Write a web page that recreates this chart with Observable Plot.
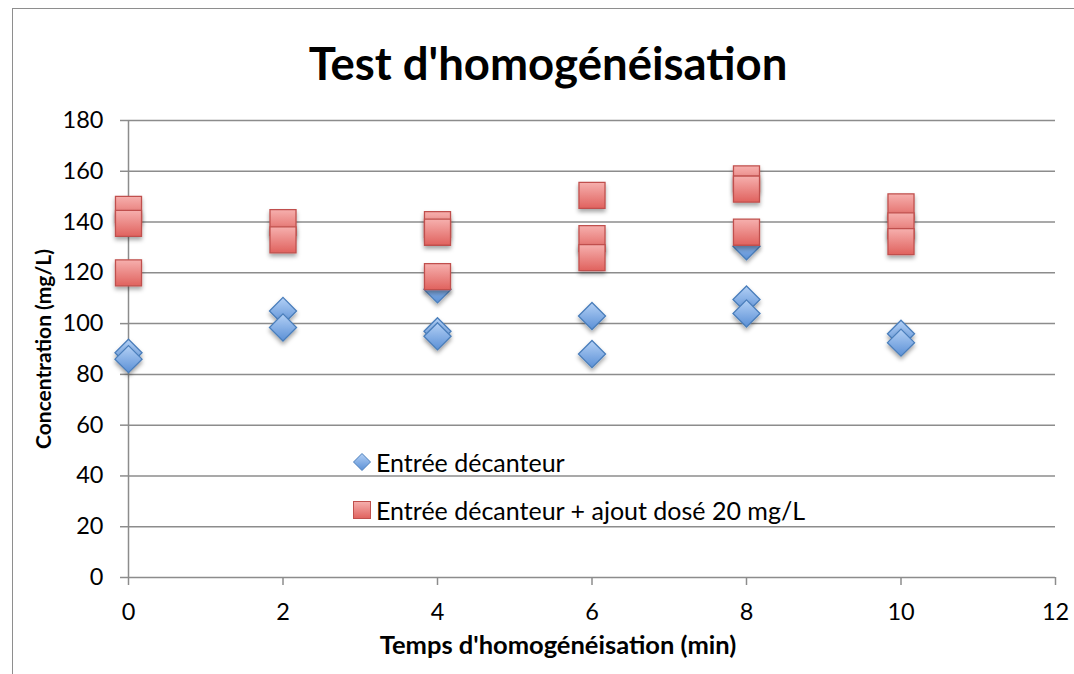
<!DOCTYPE html>
<html>
<head>
<meta charset="utf-8">
<script src="https://cdn.jsdelivr.net/npm/d3@7"></script>
<script src="https://cdn.jsdelivr.net/npm/@observablehq/plot@0.6"></script>
<style>
  html, body { margin: 0; padding: 0; background: #fff; overflow: hidden; }
  #wrap { position: relative; width: 1074px; height: 674px; font-family: Lato, "Open Sans", sans-serif; }
  #frame { position: absolute; left: 12px; top: 8px; width: 1200px; height: 800px; border: 1.5px solid #8e8e8e; box-sizing: border-box; }
  #title { position: absolute; left: 0; width: 1096px; top: 36px; text-align: center; font-weight: bold; font-size: 45.5px; line-height: 1.2; color: #000; }
  #chart { position: absolute; left: 0; top: 0; }
  #legend { position: absolute; left: 352px; top: 438px; font-size: 25px; color: #000; }
  .item { display: flex; align-items: center; height: 48px; }
  .item svg { margin-right: 4px; }
</style>
</head>
<body>
<div id="wrap">
  <div id="frame"></div>
  <div id="chart"></div>
  <div id="title">Test d'homogénéisation</div>
  <div id="legend"></div>
</div>
<script>
// ---- data ----
const seriesNames = ["Entrée décanteur", "Entrée décanteur + ajout dosé 20 mg/L"];
const blueX = [0, 0, 2, 2, 4, 4, 4, 6, 6, 8, 8, 8, 10, 10];
const blueY = [88.5, 86, 105, 98.5, 113.5, 97, 95, 103, 88, 130.5, 109.5, 104, 96, 92.5];
const redX = [0, 0, 0, 2, 2, 4, 4, 4, 6, 6, 6, 8, 8, 8, 10, 10, 10];
const redY = [145, 139.5, 120, 139.8, 133, 139, 136, 118.5, 150.5, 133.5, 126, 157, 153, 136, 146, 138.5, 132.3];
const xTicks = [0, 2, 4, 6, 8, 10, 12];
const yTicks = [0, 20, 40, 60, 80, 100, 120, 140, 160, 180];
const xLabel = "Temps d'homogénéisation (min)";
const yLabel = "Concentration (mg/L)";

const blue = blueX.map((x, i) => ({x, y: blueY[i]}));
const red = redX.map((x, i) => ({x, y: redY[i]}));

const grid = "#8c8c8c";

const plot = Plot.plot({
  width: 1074,
  height: 674,
  marginLeft: 128,
  marginRight: 19,
  marginTop: 120,
  marginBottom: 97,
  style: { fontFamily: "Lato, 'Open Sans', sans-serif", background: "transparent", overflow: "visible" },
  x: { domain: [0, 12] },
  y: { domain: [0, 180] },
  marks: [
    Plot.ruleY(yTicks.filter(d => d > 0), { stroke: grid, strokeWidth: 1.5, strokeOpacity: 1 }),
    Plot.axisY({ ticks: yTicks, tickSize: 8, tickPadding: 17, fontSize: 23.5, stroke: grid, strokeWidth: 1.5, strokeOpacity: 1,
      label: yLabel, labelAnchor: "center", labelOffset: 92, labelArrow: "none" }),
    Plot.axisX({ ticks: xTicks, tickSize: 8, tickPadding: 18, fontSize: 23.5, stroke: grid, strokeWidth: 1.5, strokeOpacity: 1,
      label: xLabel, labelAnchor: "center", labelOffset: 76, labelArrow: "none" }),
    Plot.ruleX([0], { stroke: grid, strokeWidth: 1.5 }),
    Plot.ruleY([0], { stroke: grid, strokeWidth: 1.5 }),
    Plot.dot(blue, { x: "x", y: "y", symbol: "diamond2", r: 12.2, fill: "url(#gBlue)", stroke: "#4a7ebb", strokeWidth: 1.3, className: "sh" }),
    Plot.dot(red, { x: "x", y: "y", symbol: "square", r: 14.7, fill: "url(#gRed)", stroke: "#c0504d", strokeWidth: 1.3, className: "sh" })
  ]
});

// gradients and shadow
const svg = d3.select(plot);
const defs = svg.insert("defs", ":first-child");
const gb = defs.append("linearGradient").attr("id", "gBlue").attr("x1", 0).attr("y1", 0).attr("x2", 0).attr("y2", 1);
gb.append("stop").attr("offset", "0%").attr("stop-color", "#b3d0f5");
gb.append("stop").attr("offset", "100%").attr("stop-color", "#5b90d6");
const gr = defs.append("linearGradient").attr("id", "gRed").attr("x1", 0).attr("y1", 0).attr("x2", 0).attr("y2", 1);
gr.append("stop").attr("offset", "0%").attr("stop-color", "#f6b0ae");
gr.append("stop").attr("offset", "100%").attr("stop-color", "#e0625e");
const f = defs.append("filter").attr("id", "shadow").attr("x", "-50%").attr("y", "-50%").attr("width", "200%").attr("height", "200%");
f.append("feDropShadow").attr("dx", 0).attr("dy", 3).attr("stdDeviation", 2).attr("flood-color", "#000").attr("flood-opacity", 0.35);
svg.selectAll("g.sh path").attr("filter", "url(#shadow)");
svg.selectAll("[aria-label='y-axis label']").attr("font-weight", "bold").attr("font-size", 21).attr("fill", "#000");
svg.selectAll("[aria-label='x-axis label']").attr("font-weight", "bold").attr("font-size", 25.5).attr("fill", "#000");
svg.selectAll("[aria-label='y-axis label'] text").attr("font-weight", "bold").attr("font-size", 21);
svg.selectAll("[aria-label='x-axis label'] text").attr("font-weight", "bold").attr("font-size", 25.5);
svg.selectAll("[aria-label='x-axis label'] text").each(function() {
  const t = d3.select(this);
  const cur = t.attr("transform") || "";
  t.attr("transform", "translate(-34,0) " + cur);
});
svg.selectAll("[aria-label='y-axis tick label'], [aria-label='x-axis tick label']").attr("fill", "#000");
document.getElementById("chart").appendChild(plot);

// legend
const legend = d3.select("#legend");
const i1 = legend.append("div").attr("class", "item");
const s1 = i1.append("svg").attr("width", 20).attr("height", 20);
s1.append("path").attr("d", "M10,1.5L18.5,10L10,18.5L1.5,10Z").attr("fill", "url(#gBlue)").attr("stroke", "#4a7ebb").attr("stroke-width", 1);
i1.append("span").text(seriesNames[0]);
const i2 = legend.append("div").attr("class", "item");
const s2 = i2.append("svg").attr("width", 20).attr("height", 20);
s2.append("rect").attr("x", 1.5).attr("y", 1.5).attr("width", 17).attr("height", 17).attr("fill", "url(#gRed)").attr("stroke", "#c0504d").attr("stroke-width", 1);
i2.append("span").text(seriesNames[1]);
</script>
</body>
</html>
